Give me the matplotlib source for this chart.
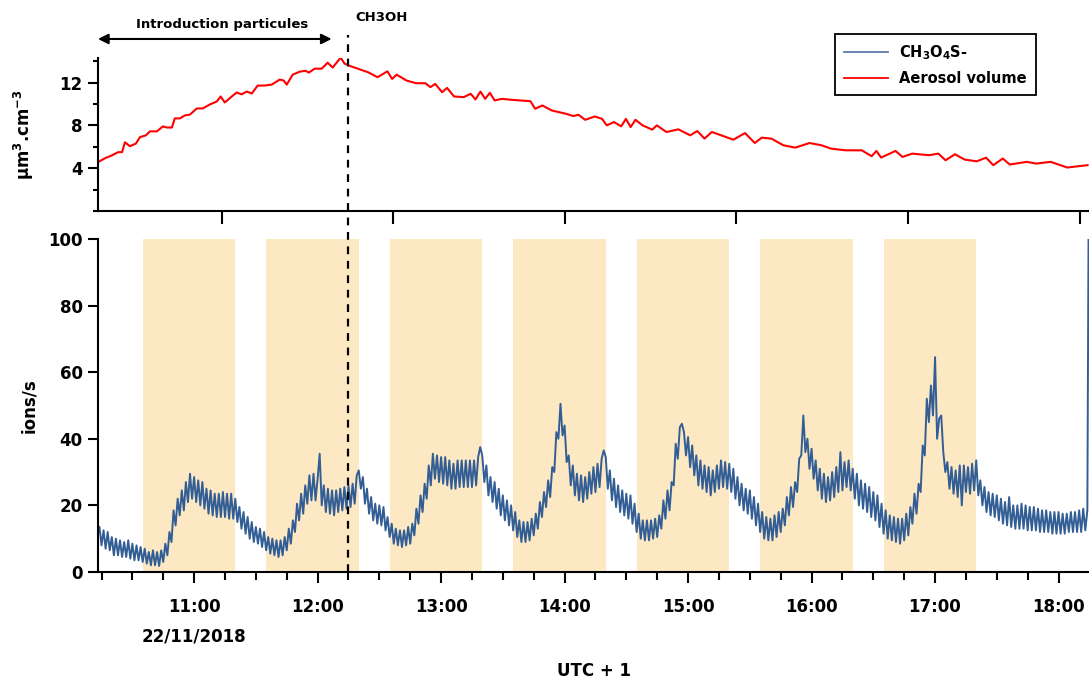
import numpy as np
import matplotlib
matplotlib.use('Agg')
import matplotlib.pyplot as plt
from matplotlib.lines import Line2D
from matplotlib.ticker import MultipleLocator

# time axis: minutes after 10:00 on 22/11/2018

# aerosol volume (um3.cm-3)
red_t = [13.3, 16.7, 20.1, 23.0, 25.0, 26.4, 28.8, 31.7, 33.7, 36.6, 38.5, 41.9, 44.8, 46.8, 49.2,
         50.6, 53.1, 55.5, 57.9, 61.3, 64.2, 67.6, 71.0, 72.9, 74.9, 78.3, 80.7, 83.1, 85.6, 88.0,
         90.9, 94.3, 97.7, 101.6, 103.5, 105.0, 107.9, 111.3, 114.2, 115.7, 118.6, 122.0, 124.9,
         127.3, 131.2, 133.1, 135.3, 139.9, 144.6, 149.1, 153.9, 156.2, 158.4, 163.2, 167.8, 172.4,
         174.8, 177.1, 180.5, 182.9, 186.3, 191.0, 194.4, 196.7, 199.1, 201.4, 203.7, 206.0, 209.5,
         214.1, 223.4, 225.7, 229.2, 233.8, 237.3, 240.8, 244.2, 246.7, 250.0, 254.7, 258.2, 260.5,
         264.0, 267.5, 269.8, 272.1, 274.4, 277.9, 282.6, 284.8, 289.5, 295.3, 301.0, 304.5, 308.0,
         311.5, 316.1, 322.0, 327.7, 332.4, 335.8, 340.5, 346.3, 352.1, 359.0, 364.8, 369.4, 376.4,
         384.4, 389.2, 391.5, 393.8, 400.8, 404.2, 408.9, 417.0, 421.6, 425.1, 429.7, 434.4, 440.2,
         444.8, 448.3, 452.9, 456.3, 464.5, 469.2, 476.2, 484.2, 494.1]
red_v = [4.56, 4.93, 5.2, 5.49, 5.5, 6.42, 6.05, 6.3, 6.9, 7.07, 7.44, 7.44, 7.9, 7.8, 7.8,
         8.65, 8.65, 8.93, 9.0, 9.58, 9.58, 9.95, 10.23, 10.7, 10.14, 10.7, 11.07, 10.9, 11.16, 10.98,
         11.72, 11.72, 11.81, 12.28, 12.19, 11.81, 12.74, 13.02, 13.1, 12.93, 13.3, 13.3, 13.86,
         13.4, 14.33, 13.77, 13.58, 13.27, 12.96, 12.5, 13.05, 12.34, 12.74, 12.19, 11.94, 11.94,
         11.57, 11.88, 11.1, 11.5, 10.7, 10.64, 10.95, 10.42, 11.16, 10.48, 11.04, 10.33, 10.48,
         10.39, 10.26, 9.55, 9.86, 9.39, 9.24, 9.08, 8.87, 8.99, 8.52, 8.83, 8.61, 8.0,
         8.31, 7.91, 8.61, 7.84, 8.52, 8.0, 7.6, 8.0, 7.38, 7.63, 7.07, 7.47, 6.76,
         7.38, 7.07, 6.66, 7.28, 6.35, 6.85, 6.76, 6.14, 5.92, 6.35, 6.14, 5.83, 5.67,
         5.67, 5.12, 5.61, 4.99, 5.61, 5.05, 5.36, 5.21, 5.36, 4.74, 5.3, 4.8, 4.64,
         4.98, 4.28, 4.9, 4.34, 4.59, 4.43, 4.59, 4.06, 4.28]

# CH3O4S- signal (ions/s), one reading per minute from 10:14 to 18:14
h10 = [13.5, 8, 12.5, 7, 12, 6.5, 10.5, 5, 10, 5, 9.5, 4.5, 9, 4.5, 9.5, 4,
       8.5, 3.5, 8, 3.5, 7.5, 3, 7, 2.5, 6, 2, 6.5, 2, 6, 1.8, 6.5, 3,
       8.5, 5, 12, 9, 18.5, 14, 22, 17, 24.5, 18.5, 27, 21, 29.5, 22]
h11 = [28.5, 21, 27.5, 20, 27, 19, 25, 17.5, 24.5, 17, 23.5, 16.5, 23.5, 16.5, 24,
       16.5, 23.5, 16, 23.5, 16, 22, 15, 19.5, 13, 18, 11.5, 16.5, 10, 15, 9,
       13.5, 8.5, 13, 7.5, 12, 6.5, 10.5, 5.5, 10, 5, 9.5, 4.5, 9.5, 5, 10.5,
       6.5, 13, 8.5, 15.5, 12, 20.5, 15.5, 23.5, 17.5, 26, 20.5, 29, 21.5, 29.5, 21.5]
h12 = [28, 35.5, 20, 26, 18, 25, 17.5, 24.5, 17, 24.5, 18, 25, 18.5, 25.5, 19,
       26, 19.5, 26.5, 20.5, 29, 30.5, 25, 28.5, 20.5, 25, 17.5, 22.5, 15.5, 20.5, 14.5,
       20, 14, 19.5, 12.5, 16.5, 10.5, 14.5, 8.5, 13, 8, 12.5, 7.5, 12.5, 8, 13.5,
       8.5, 14.5, 11, 19, 14.5, 23, 18, 26.5, 22, 32, 26, 35.5, 28, 35, 27]
h13 = [34.5, 26.5, 34.5, 26, 33.5, 25, 32.5, 25, 33.5, 25.5, 33.5, 25.5, 33.5, 25.5, 33.5,
       25.5, 33.5, 26, 34.5, 37.5, 35, 27, 32, 23, 28.5, 21, 27, 19, 25, 17,
       23, 15.5, 21.5, 14, 20, 12.5, 18, 10.5, 15.5, 9, 15, 9, 15, 9.5, 16,
       11, 17.5, 13, 21, 16.5, 24, 19.5, 27.5, 22.5, 31.5, 30, 42, 40, 50.5, 41]
h14 = [44, 33, 35, 26, 32, 23, 29.5, 21.5, 29, 21, 28.5, 22, 30, 23.5, 31.5,
       24, 32.5, 25.5, 34, 36.5, 34.5, 25, 30.5, 21.5, 28, 19.5, 26, 18, 24.5, 17,
       23.5, 16, 23, 14.5, 20.5, 12, 17.5, 10, 15.5, 9.5, 15.5, 9.5, 15.5, 10, 16,
       10.5, 17, 13, 21.5, 16, 24.5, 18.5, 27, 26, 38.5, 34, 43.5, 44.5, 42, 35]
h15 = [40.5, 31.5, 38, 29, 35, 26, 33.5, 25, 32, 24, 31.5, 23, 30.5, 24, 32,
       25, 33.5, 25.5, 33, 25, 32.5, 24, 31, 22, 28.5, 20, 26.5, 18.5, 25, 17.5,
       24.5, 16, 22.5, 14, 20.5, 12, 18, 10, 16.5, 9.5, 16, 9.5, 17, 10.5, 18,
       12, 19, 14, 22.5, 17, 25.5, 19.5, 27, 24, 34, 35, 47, 36, 40, 31]
h16 = [37, 28, 33.5, 24.5, 31, 22, 29.5, 21, 28.5, 21.5, 30, 22.5, 31.5, 24, 36,
       24.5, 33, 25.5, 33.5, 24.5, 31, 22, 29.5, 20, 27.5, 19, 26.5, 18, 25.5, 16.5,
       24, 15.5, 23, 13.5, 20.5, 11.5, 18.5, 10, 17, 9.5, 16.5, 9, 16, 8.5, 16,
       9.5, 17.5, 11, 19.5, 14.5, 23.5, 17.5, 26.5, 24, 38, 35, 52, 45, 56, 47]
h17 = [64.5, 40, 46, 47, 36, 30, 33, 25, 31.5, 23.5, 30.5, 22.5, 32, 20, 32,
       24, 31.5, 23.5, 32.5, 24.5, 33.5, 23, 27.5, 20, 25.5, 18, 24, 17, 23.5, 16.5,
       23, 15.5, 22, 14.5, 21, 14, 22.5, 13.5, 20, 13, 20, 13, 20.5, 13, 20,
       12.5, 19.5, 12.5, 19.5, 12.5, 19, 12, 18.5, 12, 18.5, 12, 18, 11.5, 18, 11.5]
h18 = [18, 11.5, 17.5, 11.5, 17.5, 12, 18, 12, 18, 12, 18.5, 12, 19, 12.5, 18.5]
end_spike = 105

blue_v = h10 + h11 + h12 + h13 + h14 + h15 + h16 + h17 + h18 + [end_spike]
blue_t = list(np.arange(14, 495, 1)) + [494.6]

band_start = [35, 95, 155, 215, 275, 335, 395]
band_len = 45
ch3oh_time = 134.6
hour_ticks = [60, 120, 180, 240, 300, 360, 420, 480]
hour_labels = ['11:00', '12:00', '13:00', '14:00', '15:00', '16:00', '17:00', '18:00']
top_ticks = [73.4, 156.8, 240.2, 323.3, 406.8, 490.3]

blue = '#335e95'
band_col = '#fce8c3'

plt.rcParams['font.family'] = 'DejaVu Sans'
plt.rcParams['font.weight'] = 'bold'
plt.rcParams['mathtext.default'] = 'bf'

fig = plt.figure(figsize=(10.89, 6.81), dpi=100)
ax_b = fig.add_axes([0.09, 0.1601, 0.91, 0.489])
ax_t = fig.add_axes([0.09, 0.6902, 0.91, 0.2247])
xmin, xmax = 13.3, 494.8

# bottom panel
for s in band_start:
    ax_b.axvspan(s, s + band_len, color=band_col, lw=0, zorder=0)
ax_b.plot(blue_t, blue_v, color=blue, lw=1.4, zorder=2)
ax_b.set_xlim(xmin, xmax)
ax_b.set_ylim(0, 100)
ax_b.set_yticks([0, 20, 40, 60, 80, 100])
ax_b.set_xticks(hour_ticks)
ax_b.set_xticklabels(hour_labels)
ax_b.xaxis.set_minor_locator(MultipleLocator(15))
ax_b.tick_params(axis='x', which='major', length=8, width=1.5, pad=11, labelsize=12)
ax_b.tick_params(axis='x', which='minor', length=6, width=1.5)
ax_b.tick_params(axis='y', length=7, width=1.5, pad=4, labelsize=12)
for sp in ['top', 'right']:
    ax_b.spines[sp].set_visible(False)
for sp in ['left', 'bottom']:
    ax_b.spines[sp].set_linewidth(1.5)
ax_b.set_ylabel('ions/s', fontsize=12, fontweight='bold')
ax_b.yaxis.set_label_coords(-0.06, 0.5)
ax_b.text(60, -0.195, '22/11/2018', transform=ax_b.get_xaxis_transform(),
          ha='center', va='center', fontsize=12, fontweight='bold')
ax_b.text(0.5, -0.297, 'UTC + 1', transform=ax_b.transAxes,
          ha='center', va='center', fontsize=12, fontweight='bold')

# top panel
ax_t.patch.set_alpha(0)
ax_t.plot(red_t, red_v, color='#ff0000', lw=1.5)
ax_t.set_xlim(xmin, xmax)
ax_t.set_ylim(0, 14.3)
ax_t.set_yticks([4, 8, 12])
ax_t.yaxis.set_minor_locator(MultipleLocator(2))
ax_t.set_xticks(top_ticks)
ax_t.set_xticklabels([])
ax_t.tick_params(axis='x', length=9, width=1.5)
ax_t.tick_params(axis='y', which='major', length=7, width=1.5, pad=4, labelsize=12)
ax_t.tick_params(axis='y', which='minor', length=3.5, width=1.5)
for sp in ['top', 'right']:
    ax_t.spines[sp].set_visible(False)
for sp in ['left', 'bottom']:
    ax_t.spines[sp].set_linewidth(1.5)
ax_t.set_ylabel('µm$^{3}$.cm$^{-3}$', fontsize=12, fontweight='bold')
ax_t.yaxis.set_label_coords(-0.063, 0.5)

handles = [Line2D([], [], color='#5a7cab', lw=1.3), Line2D([], [], color='#ff0000', lw=1.3)]
leg = ax_t.legend(handles, ['CH$_3$O$_4$S-', 'Aerosol volume'], loc='upper right',
                  bbox_to_anchor=(0.9536, 1.203), fancybox=False, edgecolor='black',
                  framealpha=1, fontsize=10.5, handlelength=3.0, borderpad=0.6,
                  labelspacing=0.65, handletextpad=0.8)
leg.get_frame().set_linewidth(1.3)

ax_t.annotate('', xy=(126.8, 1.124), xytext=(xmin, 1.124), xycoords=('data', 'axes fraction'),
              arrowprops=dict(arrowstyle='<|-|>', color='k', lw=1.5, mutation_scale=15,
                              shrinkA=0, shrinkB=0), annotation_clip=False)
ax_t.text(73.5, 1.216, 'Introduction particules', transform=ax_t.get_xaxis_transform(),
          ha='center', va='center', fontsize=9.5, fontweight='bold')
ax_t.text(138.5, 1.262, 'CH3OH', transform=ax_t.get_xaxis_transform(),
          ha='left', va='center', fontsize=9.5, fontweight='bold')

# dashed marker across both panels
xf = ax_b.transData.transform((ch3oh_time, 0))[0] / fig.bbox.width
fig.add_artist(Line2D([xf, xf], [0.1601, 1 - 35 / 681], transform=fig.transFigure,
                      color='k', lw=1.6, ls=(0, (3.5, 3))))

fig.savefig('out.png', dpi=100)
